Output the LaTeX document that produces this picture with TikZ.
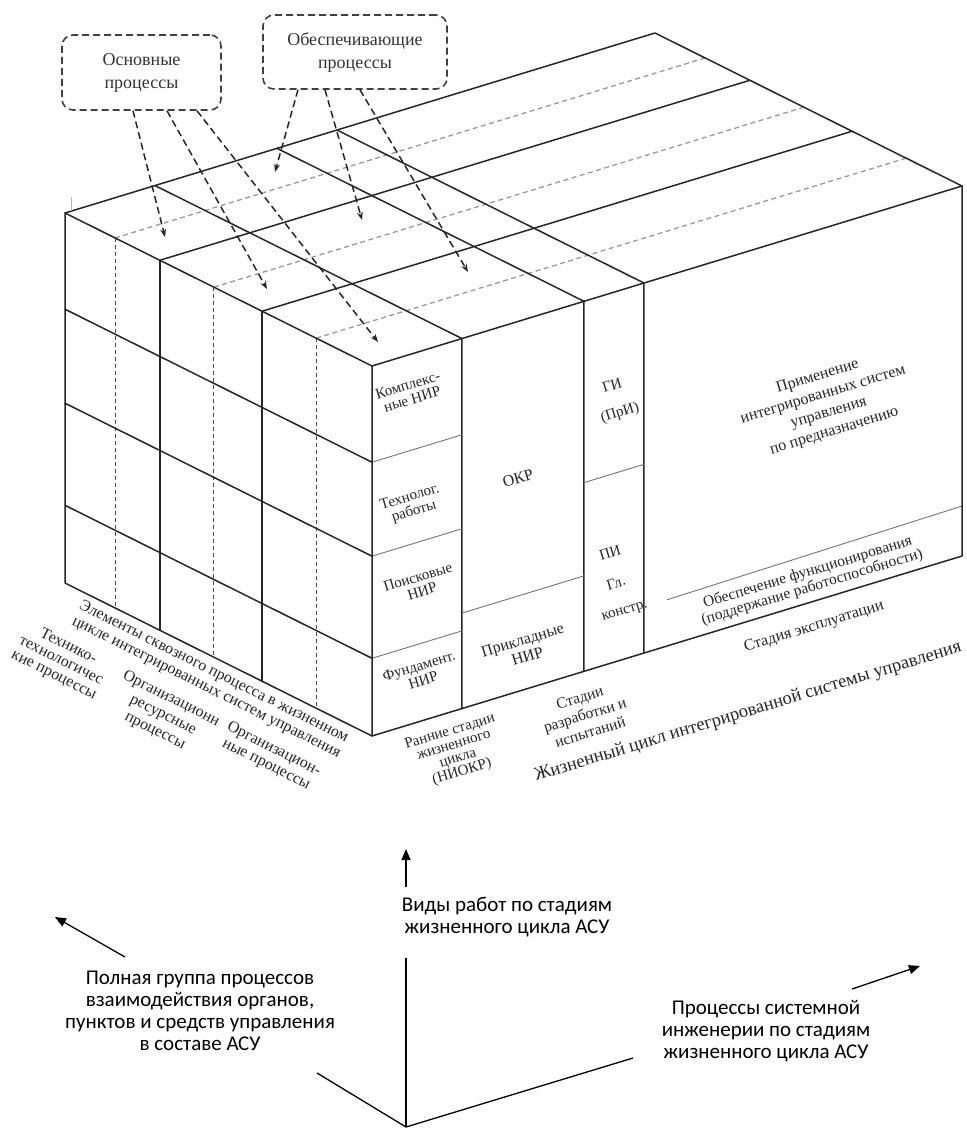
\documentclass[tikz,border=0pt]{standalone}
\usepackage{fontspec}
\setmainfont{Liberation Serif}
\newfontfamily\calfont{Carlito}
\usetikzlibrary{arrows.meta,calc}
\begin{document}
\begin{tikzpicture}[x=1pt,y=-1pt,
  edge/.style={line width=1.5pt, draw=black!85, line cap=round, line join=round},
  thinln/.style={line width=0.9pt, draw=black!55},
  gdash/.style={line width=1.3pt, draw=black!40, dash pattern=on 5pt off 3.5pt},
  vdash/.style={line width=0.8pt, draw=black!70, dash pattern=on 4pt off 3pt},
  adash/.style={line width=1.5pt, draw=black!85, dash pattern=on 7pt off 4pt, -{Stealth[length=8pt,width=6pt]}},
  pbox/.style={draw=black!75, line width=1.6pt, dash pattern=on 7pt off 4pt, rounded corners=11pt, align=center, font=\fontsize{18}{23}\selectfont, text=black!80, inner sep=0pt},
  ftxt/.style={font=\fontsize{16}{17}\selectfont, align=center, inner sep=0pt, text=black!85},
  stxt/.style={font=\fontsize{15}{15}\selectfont, align=center, inner sep=0pt, text=black!85},
  onfront/.style={rotate=16.9},
  onleft/.style={rotate=-26.6},
  axis/.style={line width=1.3pt, draw=black},
  axarr/.style={line width=1.3pt, draw=black, -{Triangle[length=11pt,width=9pt]}},
  atxt/.style={font=\calfont\fontsize{21}{22}\selectfont, align=center, inner sep=0pt}
]
\useasboundingbox (0,0) rectangle (966,1129);

% ---------- box ----------
\begin{scope}[shift={(65,213)}, x={(590pt,180pt)}, y={(0pt,-370pt)}, z={(307pt,-153pt)}]
  \coordinate (A) at (0,0,0);
  \coordinate (B) at (1,0,0);
  \coordinate (C) at (1,0,1);
  \coordinate (D) at (0,0,1);
  \coordinate (E) at (0,1,0);
  \coordinate (F) at (0,1,1);
  \coordinate (G) at (1,1,1);
  % grey dashed depth lines and dashed verticals on left face
  \foreach \d in {0.163,0.485,0.818} {
    \draw[gdash] (0,0,\d) -- (1,0,\d);
    \draw[vdash] (0,0,\d) -- (0,1,\d);
  }
  % solid depth lines
  \foreach \d in {0.309,0.642} {
    \draw[edge] (0,0,\d) -- (1,0,\d);
    \draw[edge] (0,0,\d) -- (0,1,\d);
  }
  % length divisions
  \foreach \f in {0.1525,0.3593,0.461} {
    \draw[edge] (\f,0,0) -- (\f,0,1) -- (\f,1,1);
  }
  % height divisions
  \foreach \h in {0.26,0.514,0.79} {
    \draw[edge] (0,\h,0) -- (0,\h,1);
    \draw[thinln] (0,\h,1) -- (0.1525,\h,1);
  }
  \draw[thinln] (0.1525,0.742,1) -- (0.3593,0.742,1);
  \draw[thinln] (0.3593,0.49,1) -- (0.461,0.49,1);
  \draw[thinln] (0.5,0.875,1) -- (1,0.865,1);
  % outline
  \draw[edge] (A) -- (B) -- (C) -- (D) -- cycle;
  \draw[edge] (D) -- (F) -- (G) -- (C);
  \draw[edge] (A) -- (E) -- (F);
\end{scope}
\draw[black!30, line width=0.8pt] (71,197) -- (71,211);

% ---------- dashed boxes and arrows ----------
\node[pbox, minimum width=159pt, minimum height=75pt] (box1) at (141.5,72.5) {Основные\\процессы};
\node[pbox, minimum width=184pt, minimum height=74pt] (box2) at (355,52) {Обеспечивающие\\процессы};
\coordinate (t1) at (165,237);
\coordinate (t2) at (267,289);
\coordinate (t3) at (378,342);
\coordinate (t4) at (275,172);
\coordinate (t5) at (362,220);
\coordinate (t6) at (468,272);
\draw[adash] ([xshift=-8.5pt]box1.south) -- (t1);
\draw[adash] ([xshift=25.5pt]box1.south) -- (t2);
\draw[adash] ([xshift=55.5pt]box1.south) -- (t3);
\draw[adash] ([xshift=-57pt]box2.south) -- (t4);
\draw[adash] ([xshift=-30pt]box2.south) -- (t5);
\draw[adash] ([xshift=5pt]box2.south) -- (t6);

% ---------- front face texts ----------
\node[stxt, onfront] (c11) at (410,392) {Комплекс-\\ные НИР};
\node[stxt, onfront] (c12) at (412,505) {Технолог.\\работы};
\node[stxt, onfront] (c13) at (420,584) {Поисковые\\НИР};
\node[stxt, onfront] (c14) at (421,673) {Фундамент.\\НИР};
\node[ftxt, onfront] (c21) at (518,478) {ОКР};
\node[ftxt, onfront] (c22) at (525,648) {Прикладные\\НИР};
\node[stxt, onfront] (c31) at (612,385) {ГИ};
\node[stxt, onfront] (c31b) at (620,413) {(ПрИ)};
\node[stxt, onfront] (c32) at (610,553) {ПИ};
\node[stxt, onfront] (c32b) at (616,583) {Гл.};
\node[stxt, onfront] (c32c) at (625,612) {констр.};
\node[font=\fontsize{16}{19}\selectfont, align=center, inner sep=0pt, text=black!85, onfront] (c41) at (826,404) {Применение\\интегрированных систем\\управления\\по предназначению};
\node[font=\fontsize{15.5}{14}\selectfont, align=center, inner sep=0pt, text=black!85, onfront] (c42) at (810,580) {Обеспечение функционирования\\(поддержание работоспособности)};

% ---------- labels under front face ----------
\node[font=\fontsize{15}{14}\selectfont, align=center, inner sep=0pt, text=black!85, onfront] (l1) at (456,752) {Ранние стадии\\жизненного\\цикла\\(НИОКР)};
\node[font=\fontsize{15.5}{18}\selectfont, align=center, inner sep=0pt, text=black!85, onfront] (l2) at (585,715) {Стадии\\разработки и\\испытаний};
\node[ftxt, onfront] (l3) at (814,627) {Стадия эксплуатации};
\node[font=\fontsize{18.5}{20}\selectfont, inner sep=0pt, text=black!85, onfront] (l4) at (748,712) {Жизненный цикл интегрированной системы управления};

% ---------- labels under left face ----------
\node[ftxt, onleft] (m1) at (210,680) {Элементы сквозного процесса в жизненном\\цикле интегрированных систем управления};
\node[font=\fontsize{16}{16}\selectfont, align=center, inner sep=0pt, text=black!85, onleft] (m2) at (61,661) {Технико-\\технологичес\\кие процессы};
\node[font=\fontsize{16}{18}\selectfont, align=center, inner sep=0pt, text=black!85, onleft] (m3) at (163,715) {Организационн\\ресурсные\\процессы};
\node[font=\fontsize{16}{17}\selectfont, align=center, inner sep=0pt, text=black!85, onleft] (m4) at (270,757) {Организацион-\\ные процессы};

% ---------- axes ----------
\coordinate (O) at (406,1127);
\coordinate (Vt) at (406,958);
\coordinate (Lt) at (317,1073);
\coordinate (Rt) at (633,1058);
\draw[axis] (Lt) -- (O) -- (Rt);
\draw[axis] (O) -- (Vt);
\coordinate (ua1) at (406,887);
\coordinate (ua2) at (406,849);
\coordinate (la1) at (125,957);
\coordinate (la2) at (55,917);
\coordinate (ra1) at (852,989);
\coordinate (ra2) at (920,966);
\draw[axarr] (ua1) -- (ua2);
\draw[axarr] (la1) -- (la2);
\draw[axarr] (ra1) -- (ra2);
\node[atxt] (ax1) at (507,917.5) {Виды работ по стадиям\\жизненного цикла АСУ};
\node[atxt] (ax2) at (200,1011) {Полная группа процессов\\взаимодействия органов,\\пунктов и средств управления\\в составе АСУ};
\node[atxt] (ax3) at (766,1031) {Процессы системной\\инженерии по стадиям\\жизненного цикла АСУ};
\end{tikzpicture}
\end{document}
